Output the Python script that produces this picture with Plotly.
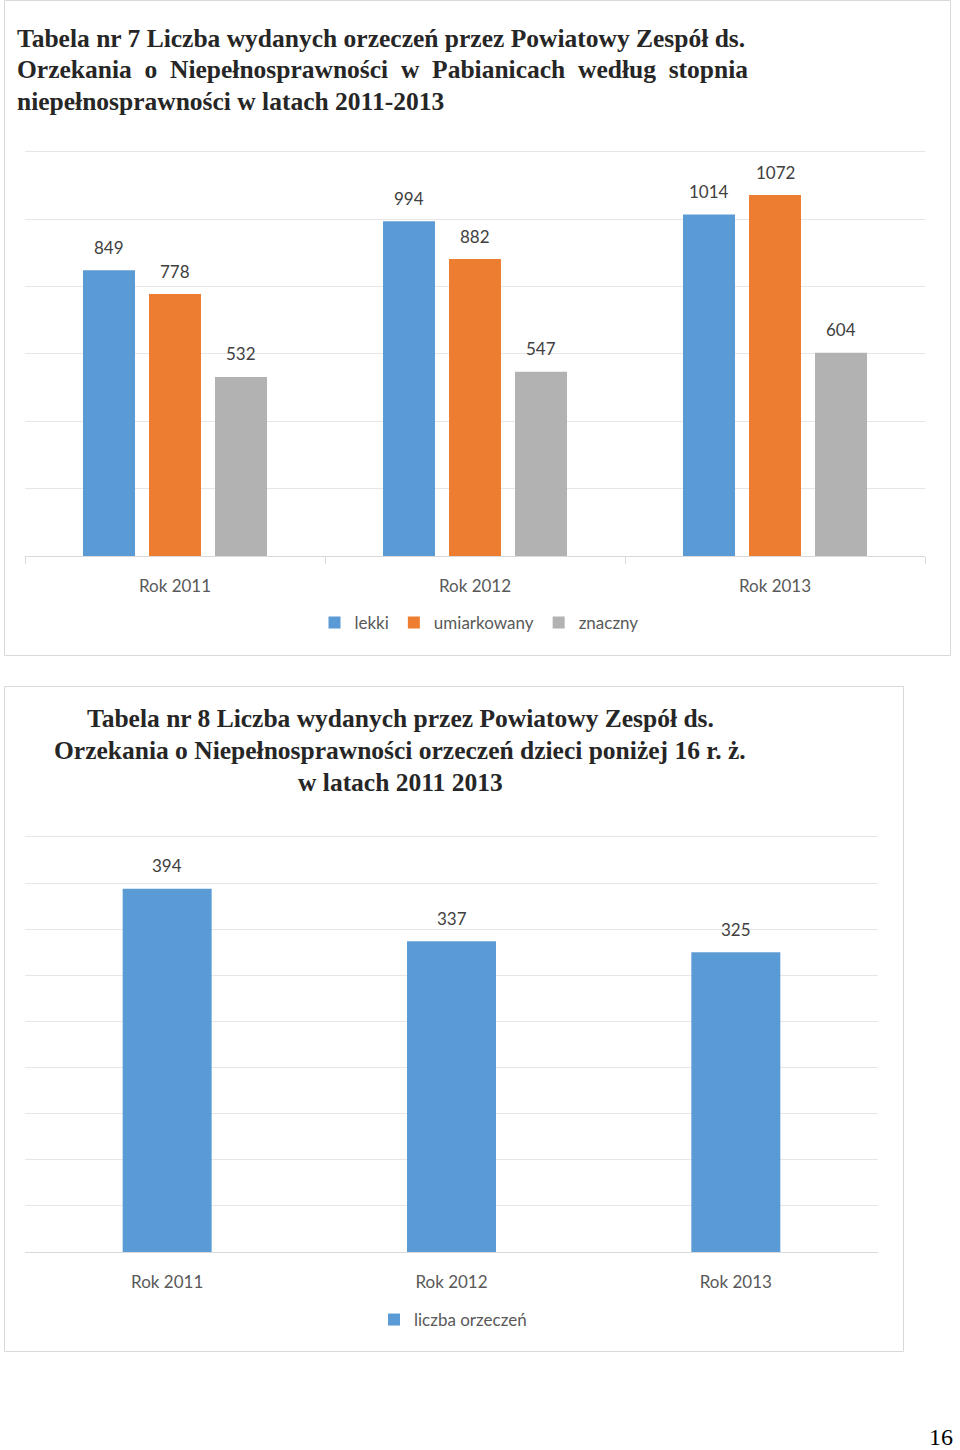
import plotly.graph_objects as go

W, H = 960, 1450

# ---- data ----
years = ["Rok 2011", "Rok 2012", "Rok 2013"]
lekki = [849, 994, 1014]
umiarkowany = [778, 882, 1072]
znaczny = [532, 547, 604]
series_names = ["lekki", "umiarkowany", "znaczny"]
series_colors = ["#5B9BD5", "#ED7D31", "#B2B2B2"]

dzieci = [394, 337, 325]
dzieci_name = "liczba orzeczeń"
dzieci_color = "#5B9BD5"

title1_lines = [
    "Tabela nr 7 Liczba wydanych orzeczeń przez Powiatowy Zespół ds.",
    "Orzekania\u00a0\u00a0o\u00a0\u00a0Niepełnosprawności\u00a0\u00a0w\u00a0\u00a0Pabianicach\u00a0\u00a0według\u00a0\u00a0stopnia",
    "niepełnosprawności w latach 2011-2013",
]
title2_lines = [
    "Tabela nr 8 Liczba wydanych przez Powiatowy Zespół ds.",
    "Orzekania o Niepełnosprawności orzeczeń dzieci poniżej 16 r. ż.",
    "w latach 2011 2013",
]
page_no = "16"


def px(x):
    return x / W


def py(y):
    return 1 - y / H


LABEL_FONT = dict(family="Lato", size=17, color="#404040")
AXIS_FONT = dict(family="Lato", size=17, color="#595959")
TITLE_FONT = dict(family="Liberation Serif", size=25.5, color="#262626")

fig = go.Figure()

all_vals = [lekki, umiarkowany, znaczny]
for name, vals, col in zip(series_names, all_vals, series_colors):
    fig.add_trace(go.Bar(
        x=years, y=vals, name=name,
        marker=dict(color=col, line_width=0),
        xaxis="x", yaxis="y", legend="legend", hoverinfo="skip",
    ))

fig.add_trace(go.Bar(
    x=years, y=dzieci, name=dzieci_name, width=0.313,
    marker=dict(color=dzieci_color, line_width=0),
    xaxis="x2", yaxis="y2", legend="legend2", hoverinfo="skip",
))

annotations = []
# data labels, chart 1
for i, vals in enumerate(all_vals):
    for j, v in enumerate(vals):
        annotations.append(dict(
            x=years[j], y=v, xref="x", yref="y", text=str(v),
            xshift=(i - 1) * 66, yshift=23, yanchor="middle",
            showarrow=False, font=LABEL_FONT,
        ))
# data labels, chart 2
for j, v in enumerate(dzieci):
    annotations.append(dict(
        x=years[j], y=v, xref="x2", yref="y2", text=str(v),
        yshift=23, yanchor="middle", showarrow=False, font=LABEL_FONT,
    ))

# titles
for line, yy in zip(title1_lines, [38, 70, 102]):
    annotations.append(dict(
        x=px(15), y=py(yy), xref="paper", yref="paper", text="<b>" + line + "</b>",
        xanchor="left", yanchor="middle", showarrow=False, font=TITLE_FONT,
    ))
for line, yy in zip(title2_lines, [718, 750, 782]):
    annotations.append(dict(
        x=px(400), y=py(yy), xref="paper", yref="paper", text="<b>" + line + "</b>",
        xanchor="center", yanchor="middle", showarrow=False, font=TITLE_FONT,
    ))
annotations.append(dict(
    x=px(955), y=py(1437), xref="paper", yref="paper", text=page_no,
    xanchor="right", yanchor="middle", showarrow=False,
    font=dict(family="Liberation Serif", size=24, color="#000000"),
))

shapes = [
    dict(type="rect", xref="paper", yref="paper",
         x0=px(4.5), x1=px(950.5), y0=py(655.5), y1=py(0.5),
         line=dict(color="#d9d9d9", width=1), fillcolor="rgba(0,0,0,0)", layer="below"),
    dict(type="rect", xref="paper", yref="paper",
         x0=px(4.5), x1=px(903.5), y0=py(1351.5), y1=py(686.5),
         line=dict(color="#d9d9d9", width=1), fillcolor="rgba(0,0,0,0)", layer="below"),
]

# y scales: chart 1 -> 404 px per 1200, chart 2 -> 415 px per 450
top_max = 1220
bot_max = 460
top_dom_top = 556 - top_max * 404 / 1200
bot_dom_top = 1252 - bot_max * 415 / 450

fig.update_layout(
    width=W, height=H,
    margin=dict(l=0, r=0, t=0, b=0),
    paper_bgcolor="white", plot_bgcolor="white",
    barmode="group", bargap=0.34, bargroupgap=0.212,
    showlegend=True,
    annotations=annotations, shapes=shapes,
    xaxis=dict(
        domain=[px(25), px(925)], anchor="y",
        showline=True, linecolor="#d9d9d9", linewidth=1,
        ticks="outside", tickson="boundaries", ticklen=7, tickcolor="#d9d9d9",
        tickfont=AXIS_FONT, showgrid=False, zeroline=False,
        ticklabelstandoff=15, fixedrange=True,
    ),
    yaxis=dict(
        domain=[py(556), py(top_dom_top)], anchor="x", range=[0, top_max], dtick=200,
        showticklabels=False, gridcolor="#e6e6e6", gridwidth=1, zeroline=False,
        ticks="", fixedrange=True,
    ),
    xaxis2=dict(
        domain=[px(25), px(878)], anchor="y2",
        showline=True, linecolor="#d9d9d9", linewidth=1,
        ticks="", tickfont=AXIS_FONT, showgrid=False, zeroline=False,
        ticklabelstandoff=15, fixedrange=True,
    ),
    yaxis2=dict(
        domain=[py(1252), py(bot_dom_top)], anchor="x2", range=[0, bot_max], dtick=50,
        showticklabels=False, gridcolor="#e6e6e6", gridwidth=1, zeroline=False,
        ticks="", fixedrange=True,
    ),
    legend=dict(
        orientation="h", x=px(479), xanchor="center", y=py(623), yanchor="middle",
        font=AXIS_FONT, bgcolor="rgba(0,0,0,0)", itemclick=False, itemdoubleclick=False,
    ),
    legend2=dict(
        orientation="h", x=px(453), xanchor="center", y=py(1320), yanchor="middle",
        font=AXIS_FONT, bgcolor="rgba(0,0,0,0)", itemclick=False, itemdoubleclick=False,
    ),
)

fig.write_html(
    "out.html",
    config={"displayModeBar": False},
    post_script="document.body.style.margin='0';document.body.style.overflow='hidden';",
)
